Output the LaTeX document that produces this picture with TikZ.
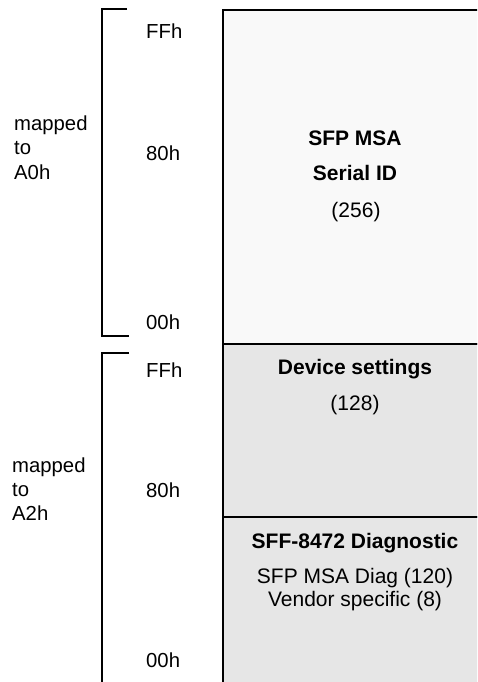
\documentclass[tikz,border=0pt]{standalone}
\usepackage{fontspec}
\setmainfont{Liberation Sans}
\definecolor{toplight}{HTML}{F9F9F9}
\definecolor{lowgray}{HTML}{E6E6E6}
\begin{document}
\begin{tikzpicture}[x=1pt,y=-1pt,
  addr/.style={anchor=base west, inner sep=0pt, font=\fontsize{20.3}{24}\selectfont},
  side/.style={anchor=base west, inner sep=0pt, font=\fontsize{20.3}{24}\selectfont},
  boxtitle/.style={anchor=base, inner sep=0pt, font=\fontsize{21}{25}\selectfont\bfseries},
  boxtext/.style={anchor=base, inner sep=0pt, font=\fontsize{21}{25}\selectfont},
  bracket/.style={line width=1.5pt},
  region/.style={draw=black, line width=2pt}]
\useasboundingbox (0,0) rectangle (477,682);
\clip (0,0) rectangle (477,682);
% memory map regions
\filldraw[region, fill=toplight] (223,10) rectangle (500,343.5);
\filldraw[region, fill=lowgray] (223,343.5) rectangle (500,516.5);
\filldraw[region, fill=lowgray] (223,516.5) rectangle (500,700);
% brackets
\draw[bracket] (127,9) -- (102,9) -- (102,336) -- (129,336);
\draw[bracket] (129,353) -- (102,353) -- (102,700);
% address labels
\node[addr] (ffa) at (146,39) {FFh};
\node[addr] (80a) at (146,160) {80h};
\node[addr] (00a) at (146,329) {00h};
\node[addr] (ffb) at (146,377) {FFh};
\node[addr] (80b) at (146,497) {80h};
\node[addr] (00b) at (146,667) {00h};
% side labels
\node[side] (ma1) at (14,130) {mapped};
\node[side] (ma2) at (14,154) {to};
\node[side] (ma3) at (14,179) {A0h};
\node[side] (mb1) at (12,472) {mapped};
\node[side] (mb2) at (12,496) {to};
\node[side] (mb3) at (12,520) {A2h};
% region texts
\node[boxtitle] (sid1) at (355,146) {SFP MSA};
\node[boxtitle] (sid2) at (355,180) {Serial ID};
\node[boxtext] (sid3) at (356,217) {(256)};
\node[boxtitle] (dev1) at (355,374) {Device settings};
\node[boxtext] (dev2) at (355,410) {(128)};
\node[boxtitle] (dia1) at (355,548) {SFF-8472 Diagnostic};
\node[boxtext] (dia2) at (355,583) {SFP MSA Diag (120)};
\node[boxtext] (dia3) at (355,606) {Vendor specific (8)};
\end{tikzpicture}
\end{document}
